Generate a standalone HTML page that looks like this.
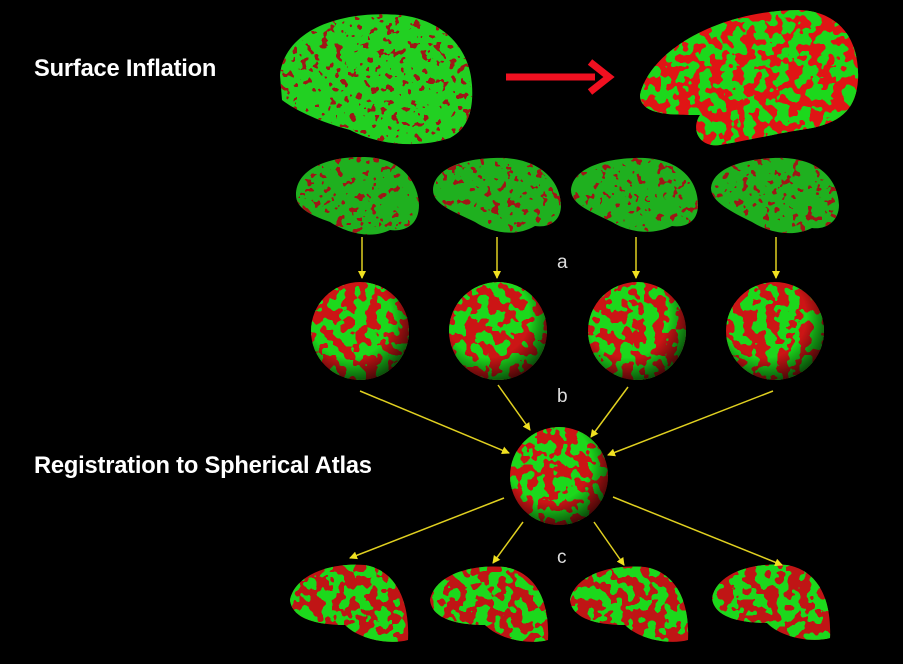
<!DOCTYPE html>
<html><head><style>
html,body{margin:0;padding:0;background:#000;}
body{width:903px;height:664px;overflow:hidden;position:relative;font-family:"Liberation Sans",sans-serif;}
.t{position:absolute;color:#fff;font-weight:bold;font-size:23.7px;letter-spacing:-0.2px;}
</style></head><body>
<svg width="903" height="664" style="position:absolute;left:0;top:0">
<defs>
 <filter id="rg" x="0" y="0" width="100%" height="100%">
  <feTurbulence type="fractalNoise" baseFrequency="0.09" numOctaves="2" seed="3" result="n"/>
  <feColorMatrix in="n" type="matrix" values="0 0 0 0 0  0 0 0 0 0  0 0 0 0 0  1 0 0 0 0" result="m"/>
  <feComponentTransfer in="m" result="t"><feFuncA type="discrete" tableValues="0 0 0 0 1 1 1 1"/></feComponentTransfer>
  <feFlood flood-color="#1fd81f" result="f"/>
  <feComposite in="f" in2="t" operator="in" result="g"/>
  <feComposite in="g" in2="SourceAlpha" operator="in"/>
 </filter>
 <filter id="rg2" x="0" y="0" width="100%" height="100%">
  <feTurbulence type="fractalNoise" baseFrequency="0.14" numOctaves="2" seed="7" result="n"/>
  <feColorMatrix in="n" type="matrix" values="0 0 0 0 0  0 0 0 0 0  0 0 0 0 0  1 0 0 0 0" result="m"/>
  <feComponentTransfer in="m" result="t"><feFuncA type="discrete" tableValues="0 0 0 0 0 1 1 1"/></feComponentTransfer>
  <feFlood flood-color="#a01818" result="f"/>
  <feComposite in="f" in2="t" operator="in" result="g"/>
  <feComposite in="g" in2="SourceAlpha" operator="in"/>
 </filter>
 <radialGradient id="shade" cx="0.4" cy="0.35" r="0.7">
  <stop offset="0.6" stop-color="#000" stop-opacity="0"/>
  <stop offset="1" stop-color="#000" stop-opacity="0.7"/>
 </radialGradient>
 <marker id="ya" markerWidth="8" markerHeight="8" refX="7" refY="4" orient="auto" markerUnits="userSpaceOnUse">
  <path d="M0,0 L8,4 L0,8 z" fill="#f0e020"/>
 </marker>
 <clipPath id="b0"><path d="M280,75 C285,30 340,10 400,15 C445,20 470,50 472,85 C474,115 465,130 450,138 C420,148 380,146 350,130 C320,122 295,110 282,100 Z"/></clipPath>
 <clipPath id="b1"><path d="M640,95 C650,50 720,10 800,10 C840,12 860,40 858,80 C856,110 840,125 800,130 C770,135 750,140 720,145 C700,148 690,130 700,115 C670,115 640,115 640,95 Z"/></clipPath>
</defs>
<g clip-path="url(#b0)">
 <rect x="270" y="0" width="210" height="160" fill="#22d022"/>
 <rect x="270" y="0" width="210" height="160" fill="#fff" filter="url(#rg2)"/>
</g>
<line x1="506" y1="77" x2="595" y2="77" stroke="#f01020" stroke-width="7"/>
<path d="M590,62 L609,77 L590,92" fill="none" stroke="#f01020" stroke-width="7"/>
<g clip-path="url(#b1)">
 <rect x="630" y="0" width="240" height="160" fill="#e01515"/>
 <rect x="630" y="0" width="240" height="160" fill="#fff" filter="url(#rg)"/>
</g>
<g id="tb">
 <path d="M296,195 C296,168 330,156 365,157 C400,158 418,180 419,205 C419,225 405,232 390,230 C370,240 345,232 330,222 C310,215 296,208 296,195 Z"/>
 <path d="M433,190 C434,166 470,157 505,158 C540,160 560,180 561,205 C561,222 548,228 535,226 C515,238 490,232 475,222 C455,212 433,205 433,190 Z"/>
 <path d="M571,190 C573,166 610,157 645,158 C680,160 698,180 698,205 C698,222 685,228 672,226 C652,236 628,232 612,222 C592,212 571,205 571,190 Z"/>
 <path d="M711,188 C713,166 750,157 785,158 C820,160 838,180 839,205 C839,222 825,230 812,228 C792,238 768,232 752,222 C732,212 711,202 711,188 Z"/>
</g>
<use href="#tb" fill="#1fb01f"/>
<use href="#tb" fill="#fff" filter="url(#rg2)"/>
<g fill="#cc1515">
 <circle cx="360" cy="331" r="49"/><circle cx="498" cy="331" r="49"/><circle cx="637" cy="331" r="49"/><circle cx="775" cy="331" r="49"/><circle cx="559" cy="476" r="49"/>
</g>
<g filter="url(#rg)" fill="#fff">
 <circle cx="360" cy="331" r="49"/><circle cx="498" cy="331" r="49"/><circle cx="637" cy="331" r="49"/><circle cx="775" cy="331" r="49"/><circle cx="559" cy="476" r="49"/>
</g>
<g fill="url(#shade)">
 <circle cx="360" cy="331" r="49"/><circle cx="498" cy="331" r="49"/><circle cx="637" cy="331" r="49"/><circle cx="775" cy="331" r="49"/><circle cx="559" cy="476" r="49"/>
</g>
<g fill="#c01515">
 <path d="M290,600 C295,575 330,562 365,565 C395,570 410,600 408,640 C390,645 360,640 345,625 C320,625 292,620 290,600 Z"/>
 <path d="M430,600 C435,575 470,564 505,567 C535,572 550,600 548,640 C530,645 500,640 485,625 C460,625 432,620 430,600 Z"/>
 <path d="M570,600 C575,575 610,564 645,567 C675,572 690,600 688,640 C670,645 640,640 625,625 C600,625 572,620 570,600 Z"/>
 <path d="M712,598 C717,573 752,562 787,565 C817,570 832,598 830,638 C812,643 782,638 767,623 C742,623 714,618 712,598 Z"/>
</g>
<g filter="url(#rg)" fill="#fff">
 <path d="M290,600 C295,575 330,562 365,565 C395,570 410,600 408,640 C390,645 360,640 345,625 C320,625 292,620 290,600 Z"/>
 <path d="M430,600 C435,575 470,564 505,567 C535,572 550,600 548,640 C530,645 500,640 485,625 C460,625 432,620 430,600 Z"/>
 <path d="M570,600 C575,575 610,564 645,567 C675,572 690,600 688,640 C670,645 640,640 625,625 C600,625 572,620 570,600 Z"/>
 <path d="M712,598 C717,573 752,562 787,565 C817,570 832,598 830,638 C812,643 782,638 767,623 C742,623 714,618 712,598 Z"/>
</g>
<g stroke="#e0d020" stroke-width="1.5" marker-end="url(#ya)">
 <line x1="362" y1="237" x2="362" y2="278"/>
 <line x1="497" y1="237" x2="497" y2="278"/>
 <line x1="636" y1="237" x2="636" y2="278"/>
 <line x1="776" y1="237" x2="776" y2="278"/>
 <line x1="360" y1="391" x2="509" y2="453"/>
 <line x1="498" y1="385" x2="530" y2="430"/>
 <line x1="628" y1="387" x2="591" y2="437"/>
 <line x1="773" y1="391" x2="608" y2="455"/>
 <line x1="504" y1="498" x2="350" y2="558"/>
 <line x1="523" y1="522" x2="493" y2="563"/>
 <line x1="594" y1="522" x2="624" y2="565"/>
 <line x1="613" y1="497" x2="782" y2="565"/>
</g>
<g fill="#ddd" font-family="Liberation Sans,sans-serif" font-size="19">
 <text x="557" y="268">a</text><text x="557" y="402">b</text><text x="557" y="563">c</text>
</g>
</svg>
<div class="t" style="left:34px;top:56px;">Surface Inflation</div>
<div class="t" style="left:34px;top:453px;">Registration to Spherical Atlas</div>
</body></html>
